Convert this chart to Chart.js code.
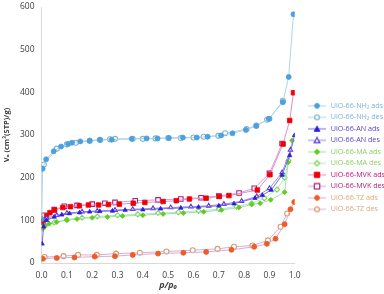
<!DOCTYPE html>
<html>
<head>
<meta charset="utf-8">
<script src="https://cdn.jsdelivr.net/npm/chart.js@4.4.1/dist/chart.umd.min.js"></script>
<style>
  html, body { margin: 0; padding: 0; background: #fff; }
  #wrap { width: 384px; height: 294px; position: relative; }
</style>
</head>
<body>
<div id="wrap"><canvas id="isoChart"></canvas></div>
<script>
// isotherm data (p/p0, volume)
const nh2AdsP = [0.0005, 0.004, 0.018, 0.048, 0.077, 0.105, 0.12, 0.153, 0.19, 0.23, 0.277, 0.356, 0.415, 0.458, 0.503, 0.558, 0.613, 0.656, 0.709, 0.754, 0.807, 0.848, 0.898, 0.953, 0.976, 0.995];
const nh2AdsV = [103, 221, 243, 262, 273, 279, 282, 285, 287, 289, 289, 291, 292, 292, 293, 294, 294, 296, 299, 304, 312, 321, 338, 377, 436, 583];
const nh2DesP = [0.009, 0.06, 0.1, 0.135, 0.19, 0.232, 0.27, 0.29, 0.36, 0.4, 0.45, 0.5, 0.55, 0.6, 0.64, 0.698, 0.725, 0.81, 0.848, 0.891, 0.9, 0.953];
const nh2DesV = [231, 268, 278, 282, 286, 288, 290, 291, 291, 291, 292, 293, 293, 294, 296, 298, 304, 314, 322, 336, 338, 380];

const anAdsP = [0.002, 0.008, 0.02, 0.05, 0.08, 0.11, 0.15, 0.19, 0.23, 0.28, 0.33, 0.4, 0.47, 0.55, 0.62, 0.7, 0.76, 0.843, 0.872, 0.907, 0.95, 0.98, 0.999];
const anAdsV = [45, 85, 100, 108, 113, 116, 118, 120, 121, 122, 124, 125, 127, 129, 131, 134, 139, 152, 159, 171, 206, 252, 299];
const anDesP = [0.02, 0.06, 0.1, 0.16, 0.22, 0.29, 0.36, 0.44, 0.51, 0.59, 0.66, 0.72, 0.79, 0.85, 0.9, 0.95, 0.983];
const anDesV = [105, 112, 117, 120, 122, 124, 126, 128, 130, 132, 134, 138, 145, 156, 175, 212, 265];

const maAdsP = [0.005, 0.015, 0.03, 0.06, 0.1, 0.14, 0.2, 0.26, 0.32, 0.4, 0.48, 0.56, 0.64, 0.71, 0.78, 0.83, 0.863, 0.905, 0.96, 0.974, 0.99];
const maAdsV = [80, 88, 92, 96, 100, 103, 106, 108, 110, 112, 115, 117, 120, 124, 130, 137, 140, 148, 166, 236, 287];
const maDesP = [0.01, 0.05, 0.1, 0.16, 0.22, 0.3, 0.38, 0.46, 0.54, 0.62, 0.7, 0.77, 0.83, 0.88, 0.93, 0.96, 0.975];
const maDesV = [85, 95, 102, 106, 109, 112, 114, 117, 119, 122, 126, 132, 140, 152, 172, 200, 240];

const mvkAdsP = [0.001, 0.007, 0.02, 0.033, 0.051, 0.084, 0.114, 0.149, 0.185, 0.225, 0.264, 0.307, 0.362, 0.408, 0.48, 0.532, 0.584, 0.65, 0.702, 0.74, 0.852, 0.902, 0.954, 0.98, 0.995];
const mvkAdsV = [95, 100, 110, 118, 124, 130, 132, 134, 136, 136, 137, 138, 140, 142, 144, 146, 150, 152, 156, 158, 171, 207, 279, 334, 399];
const mvkDesP = [0.01, 0.05, 0.09, 0.14, 0.2, 0.25, 0.29, 0.37, 0.46, 0.55, 0.63, 0.7, 0.78, 0.84, 0.9, 0.95];
const mvkDesV = [112, 125, 133, 135, 138, 140, 142, 146, 148, 150, 153, 157, 164, 175, 210, 280];

const tzAdsP = [0.005, 0.06, 0.13, 0.21, 0.29, 0.36, 0.46, 0.56, 0.65, 0.75, 0.84, 0.89, 0.924, 0.96, 0.983, 0.998];
const tzAdsV = [10, 12, 13, 15, 16, 19, 22, 24, 26, 31, 38, 45, 57, 91, 126, 143];
const tzDesP = [0.012, 0.087, 0.144, 0.218, 0.294, 0.388, 0.493, 0.597, 0.695, 0.76, 0.833, 0.894, 0.944, 0.97];
const tzDesV = [14, 16, 19, 19, 22, 24, 27, 30, 33, 38, 41, 53, 85, 116];

const xTicks = [0, 0.1, 0.2, 0.3, 0.4, 0.5, 0.6, 0.7, 0.8, 0.9, 1.0];
const yTicks = [0, 100, 200, 300, 400, 500, 600];

function pts(xs, ys) {
    return xs.map((x, i) => ({ x: x, y: ys[i] }));
}

// one entry per series: label, data, marker, colours
const series = [
    { label: 'UiO-66-NH\u2082 ads', data: pts(nh2AdsP, nh2AdsV), style: 'circle', open: false, mark: '#4c9fe0', line: '#a9d6e8', text: '#7db3da' },
    { label: 'UiO-66-NH\u2082 des', data: pts(nh2DesP, nh2DesV), style: 'circle', open: true, mark: '#7fb5c9', line: '#a9d6e8', text: '#7db3da' },
    { label: 'UiO-66-AN ads', data: pts(anAdsP, anAdsV), style: 'triangle', open: false, mark: '#2b1ee0', line: '#7a6ae0', text: '#5a3fc8' },
    { label: 'UiO-66-AN des', data: pts(anDesP, anDesV), style: 'triangle', open: true, mark: '#5a3ad0', line: '#9a8ae8', text: '#5a3fc8' },
    { label: 'UiO-66-MA ads', data: pts(maAdsP, maAdsV), style: 'rectRot', open: false, mark: '#62cc1e', line: '#9fe0b4', text: '#8cd062' },
    { label: 'UiO-66-MA des', data: pts(maDesP, maDesV), style: 'rectRot', open: true, mark: '#7fd25a', line: '#b4e6c0', text: '#8cd062' },
    { label: 'UiO-66-MVK ads', data: pts(mvkAdsP, mvkAdsV), style: 'rect', open: false, mark: '#f00000', line: '#e08cd0', text: '#c8107a' },
    { label: 'UiO-66-MVK des', data: pts(mvkDesP, mvkDesV), style: 'rect', open: true, mark: '#a8207e', line: '#d4a0e0', text: '#b0207e' },
    { label: 'UiO-66-TZ ads', data: pts(tzAdsP, tzAdsV), style: 'circle', open: false, mark: '#f05a28', line: '#d8aed0', text: '#e4a878' },
    { label: 'UiO-66-TZ des', data: pts(tzDesP, tzDesV), style: 'circle', open: true, mark: '#d89a70', line: '#d8aed0', text: '#d8a880' }
];

// legend swatch: short line with the marker in the middle (blank gap on the left)
function swatch(s) {
    const c = document.createElement('canvas');
    c.width = 28;
    c.height = 8;
    const g = c.getContext('2d');
    const cx = 18;
    g.strokeStyle = s.line;
    g.lineWidth = 1;
    g.beginPath();
    g.moveTo(9, 4);
    g.lineTo(27, 4);
    g.stroke();
    g.fillStyle = s.open ? '#fff' : s.mark;
    g.strokeStyle = s.mark;
    g.lineWidth = s.open ? 1.2 : 1;
    g.beginPath();
    if (s.style === 'circle') {
        g.arc(cx, 4, 2.4, 0, Math.PI * 2);
    } else if (s.style === 'triangle') {
        g.moveTo(cx, 1.2); g.lineTo(cx + 2.8, 6.4); g.lineTo(cx - 2.8, 6.4); g.closePath();
    } else if (s.style === 'rectRot') {
        g.moveTo(cx, 1.3); g.lineTo(cx + 2.7, 4); g.lineTo(cx, 6.7); g.lineTo(cx - 2.7, 4); g.closePath();
    } else {
        g.rect(cx - 2.7, 1.3, 5.4, 5.4);
    }
    g.fill();
    g.stroke();
    return c;
}

const datasets = series.map(s => ({
    label: s.label,
    data: s.data,
    showLine: true,
    borderColor: s.line,
    borderWidth: 1,
    pointStyle: s.style,
    pointRadius: s.style === 'rect' ? 3.2 : 2.5,
    pointBorderWidth: s.open ? 1.1 : 0.8,
    pointBorderColor: s.mark,
    pointBackgroundColor: s.open ? '#ffffff' : s.mark
}));

const axisFont = { family: "'Open Sans', sans-serif", size: 8.5 };

new Chart(document.getElementById('isoChart'), {
    type: 'scatter',
    data: { datasets: datasets },
    options: {
        responsive: true,
        maintainAspectRatio: false,
        animation: false,
        layout: { padding: { top: 0, right: -9, left: 0, bottom: 0 } },
        plugins: {
            tooltip: { enabled: false },
            legend: {
                position: 'right',
                align: 'center',
                title: { display: true, text: ' ', font: { size: 6 }, padding: 7 },
                labels: {
                    usePointStyle: true,
                    pointStyleWidth: 28,
                    boxHeight: 8,
                    padding: 4.3,
                    font: { family: "'Open Sans', sans-serif", size: 7.2 },
                    generateLabels: chart => series.map((s, i) => ({
                        text: s.label,
                        fontColor: s.text,
                        pointStyle: swatch(s),
                        datasetIndex: i,
                        hidden: false,
                        lineWidth: 0
                    }))
                }
            }
        },
        scales: {
            x: {
                type: 'linear',
                min: 0,
                max: 1,
                afterBuildTicks: axis => { axis.ticks = xTicks.map(v => ({ value: v })); },
                ticks: { color: '#404040', font: axisFont, padding: 7, callback: v => v.toFixed(1) },
                grid: { display: false, drawTicks: false },
                border: { color: '#d9d9d9', width: 1 },
                title: { display: true, text: 'p/p\u2080', color: '#404040', padding: { top: -7, bottom: 3 }, font: { family: "'Open Sans', sans-serif", size: 9, weight: 'bold', style: 'italic' } }
            },
            y: {
                min: 0,
                max: 600,
                afterBuildTicks: axis => { axis.ticks = yTicks.map(v => ({ value: v })); },
                // keep the tick gap but let the plot start near the top edge
                afterFit: axis => { axis.paddingTop = 7; },
                ticks: { color: '#404040', font: axisFont, padding: 7 },
                grid: { display: false, drawTicks: false },
                border: { color: '#d9d9d9', width: 1 },
                title: { display: true, text: 'V\u2090 (cm\u00b3(STP)/g)', color: '#404040', padding: { top: 2, bottom: 2 }, font: { family: "'Open Sans', sans-serif", size: 7.5, weight: 'bold' } }
            }
        }
    }
});
</script>
</body>
</html>
